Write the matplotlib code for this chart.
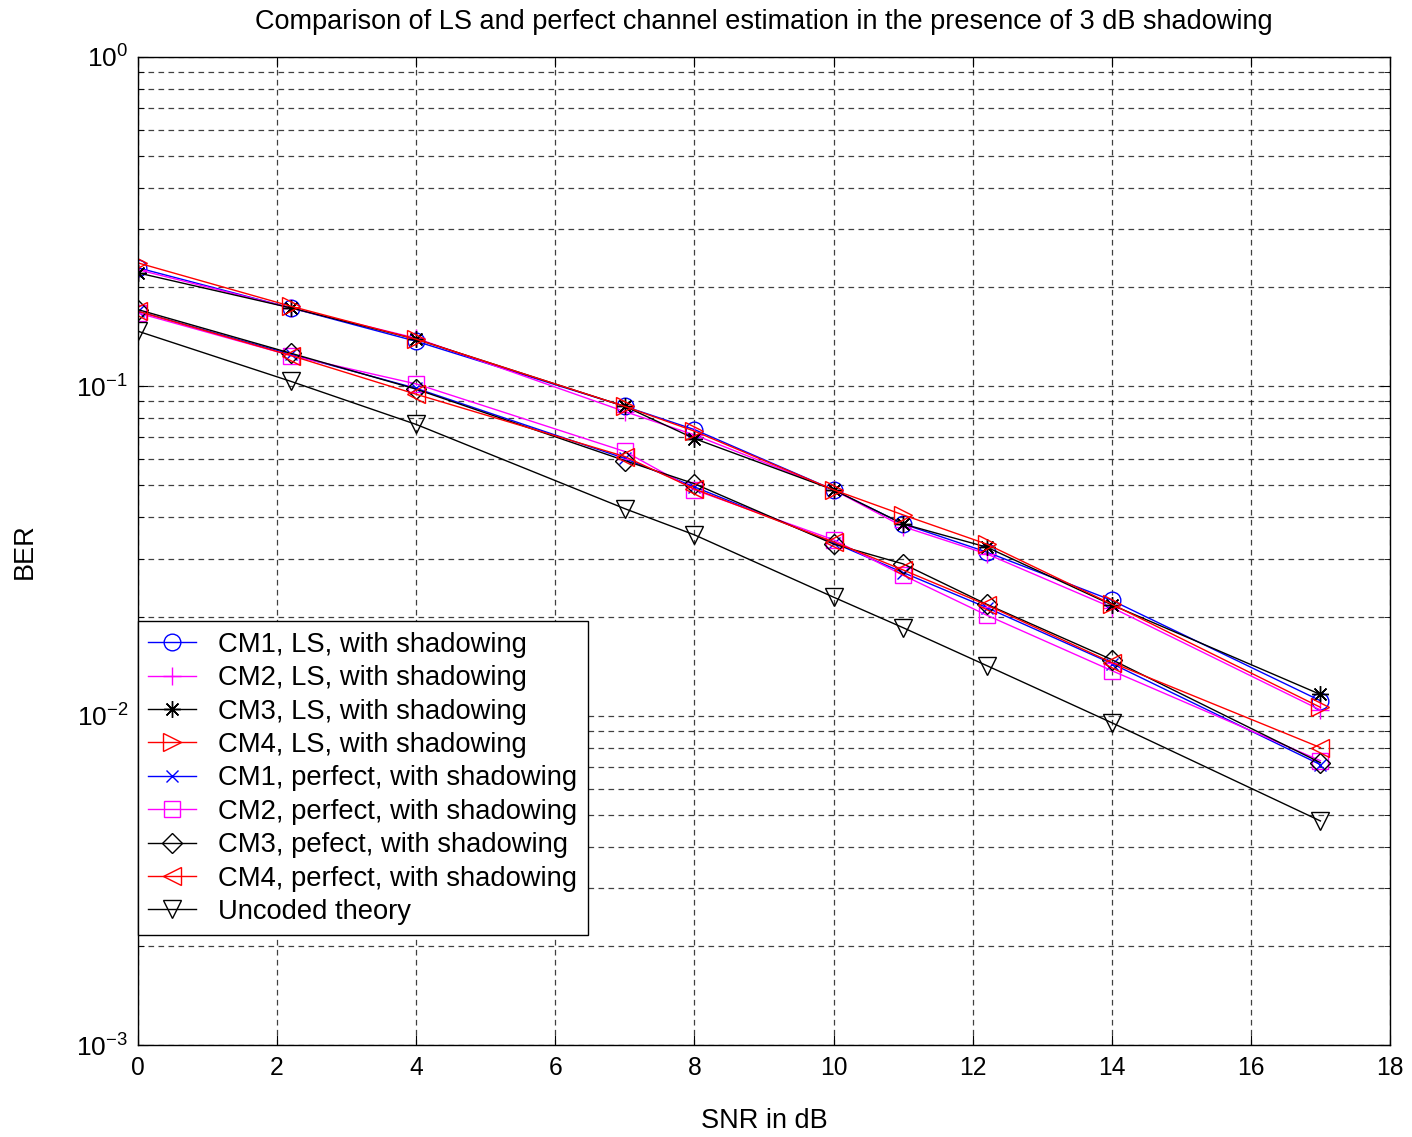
import matplotlib
matplotlib.use("Agg")
import matplotlib.pyplot as plt
from matplotlib.ticker import LogLocator, NullFormatter, MultipleLocator

plt.rcParams['font.family'] = ['Liberation Sans', 'DejaVu Sans']
plt.rcParams['mathtext.fontset'] = 'custom'
plt.rcParams['mathtext.rm'] = 'Liberation Sans'
plt.rcParams['mathtext.it'] = 'Liberation Sans'

snr = [0, 2.2, 4, 7, 8, 10, 11, 12.2, 14, 17]

cm1_ls = [0.229, 0.173, 0.137, 0.0869, 0.0739, 0.0485, 0.0382, 0.0314, 0.0224, 0.0111]
cm2_ls = [0.226, 0.173, 0.140, 0.0838, 0.0712, 0.0485, 0.0375, 0.0310, 0.0213, 0.0104]
cm3_ls = [0.221, 0.173, 0.139, 0.0869, 0.0694, 0.0485, 0.0382, 0.0325, 0.0217, 0.0116]
cm4_ls = [0.237, 0.175, 0.139, 0.0869, 0.0731, 0.0485, 0.0407, 0.0332, 0.0218, 0.0106]
cm1_pf = [0.169, 0.125, 0.0986, 0.0604, 0.0495, 0.0335, 0.0272, 0.0213, 0.0144, 0.0071]
cm2_pf = [0.167, 0.124, 0.1017, 0.0634, 0.0485, 0.0342, 0.0267, 0.0202, 0.0137, 0.0073]
cm3_pf = [0.171, 0.126, 0.0980, 0.0595, 0.0506, 0.0332, 0.0289, 0.0218, 0.0148, 0.0072]
cm4_pf = [0.169, 0.124, 0.0946, 0.0612, 0.0488, 0.0337, 0.0277, 0.0217, 0.0145, 0.0080]
uncoded = [0.147, 0.1035, 0.0766, 0.0425, 0.0354, 0.0229, 0.0185, 0.0142, 0.00952, 0.00479]

labels = ["CM1, LS, with shadowing", "CM2, LS, with shadowing", "CM3, LS, with shadowing",
          "CM4, LS, with shadowing", "CM1, perfect, with shadowing", "CM2, perfect, with shadowing",
          "CM3, pefect, with shadowing", "CM4, perfect, with shadowing", "Uncoded theory"]

series = [cm1_ls, cm2_ls, cm3_ls, cm4_ls, cm1_pf, cm2_pf, cm3_pf, cm4_pf, uncoded]
colors = ['#0000ff', '#ff00ff', '#000000', '#ff0000', '#0000ff', '#ff00ff', '#000000', '#ff0000', '#000000']
markers = ['o', '+', (8, 2, 0), '>', 'x', 's', 'D', '<', 'v']
msizes = [12, 13, 12, 13, 8, 12, 10, 13, 13]

fig = plt.figure(figsize=(14.12, 11.37), dpi=100)
ax = fig.add_axes([0.0977, 0.0809, 0.8867, 0.869])

for ys, c, m, ms, lab in zip(series, colors, markers, msizes, labels):
    ax.semilogy(snr, ys, color=c, marker=m, markersize=ms, markerfacecolor='none',
                markeredgecolor=c, markeredgewidth=1.0, linewidth=1.0, label=lab)

ax.set_xlim(0, 18)
ax.set_ylim(1e-3, 1)
ax.xaxis.set_major_locator(MultipleLocator(2))
ax.yaxis.set_major_locator(LogLocator(base=10, numticks=10))
ax.yaxis.set_minor_locator(LogLocator(base=10, subs=range(2, 10), numticks=20))
ax.yaxis.set_minor_formatter(NullFormatter())

gridkw = dict(color='#000000', linestyle=(0, (4.5, 3.5)), linewidth=0.9, alpha=0.75)
ax.grid(True, which='major', axis='both', **gridkw)
ax.grid(True, which='minor', axis='y', **gridkw)

ax.tick_params(which='both', direction='in', top=True, right=True)
ax.tick_params(axis='x', which='major', labelsize=17.7, pad=8)
ax.tick_params(axis='y', which='major', labelsize=19, pad=7)
ax.tick_params(which='major', length=7)
ax.tick_params(which='minor', length=4)
for s in ax.spines.values():
    s.set_linewidth(1.0)
    s.set_color('black')

ax.set_title("Comparison of LS and perfect channel estimation in the presence of 3 dB shadowing",
             fontsize=19.5, pad=20)
ax.set_xlabel("SNR in dB", fontsize=19.5)
ax.xaxis.label.set_va('center')
ax.xaxis.set_label_coords(0.5, -0.077)
ax.set_ylabel("BER", fontsize=19.5)
ax.yaxis.label.set_va('center')
ax.yaxis.set_label_coords(-0.0903, 0.5)

leg = ax.legend(loc='lower left', bbox_to_anchor=(0.0, 0.111), fontsize=19.7,
                frameon=True, fancybox=False, shadow=False, framealpha=1,
                edgecolor='black', handlelength=1.75, handletextpad=0.8,
                labelspacing=0.27, borderpad=0.38, borderaxespad=0.0)
leg.get_frame().set_linewidth(1.0)

fig.savefig("out.png", dpi=100)
